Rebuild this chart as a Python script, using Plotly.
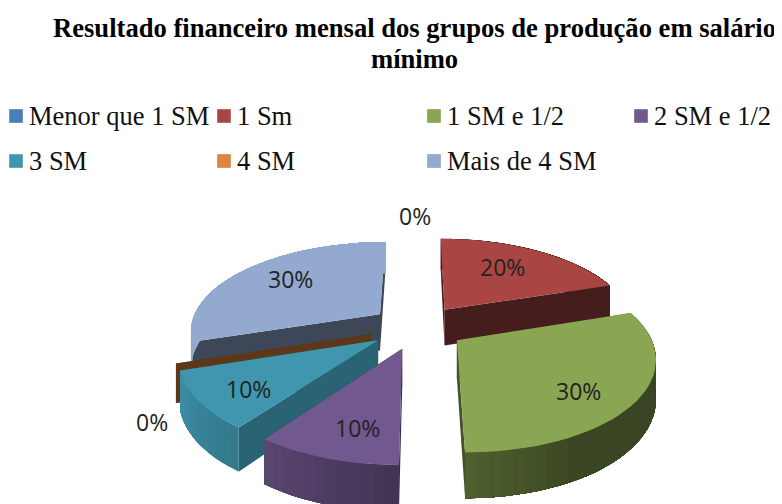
import numpy as np
import plotly.graph_objects as go

# ---- data ----
categories = ["Menor que 1 SM", "1 Sm", "1 SM e 1/2", "2 SM e 1/2", "3 SM", "4 SM", "Mais de 4 SM"]
values = [0, 20, 30, 10, 10, 0, 30]
title_lines = ["Resultado financeiro mensal dos grupos de produção em salário", "mínimo"]

# ---- styles ----
colors = ["#4A7EBB", "#A94644", "#8BA653", "#71588F", "#4096AE", "#E0853B", "#93A9CF"]
wall_shade = [0.42, 0.41, 0.50, 0.50, 0.66, 0.41, 0.42]
draw_order = [6, 1, 5, 4, 3, 2]          # back to front; the first 0 % slice is hidden in the source
label_px = [(415, 216), (502, 267), (578, 391), (357, 428), (248, 389), (152, 422), (290, 279)]
legend_col = [9, 217, 427, 634]
legend_row = [116, 161]
legend_slots = [(0, 0), (1, 0), (2, 0), (3, 0), (0, 1), (1, 1), (2, 1)]
CX, CY, R, B, PERSP, DEPTH, EXPLODE = 417.5, 327, 190, 88.3, 0.168, 37, 0.25
PAGE_MARGIN = 8   # the page body offsets the figure by this many pixels


def project(X, V):
    s = 1 / (1 - PERSP * V)
    return CX + s * X * R, CY + s * V * B, s


def rgb(hex_color, f=1.0):
    c = [int(hex_color[i:i + 2], 16) for i in (1, 3, 5)]
    return "rgb(%d,%d,%d)" % tuple(min(255, round(v * f)) for v in c)


def rim_shade(theta):
    return float(np.interp(theta, [72, 90, 150, 180, 216, 252, 270], [.41, .42, .42, .58, .80, .95, 1.0]))


fig = go.Figure()


def poly(xs, ys, color):
    fig.add_trace(go.Scatter(x=list(xs), y=list(ys), mode="lines", fill="toself", fillcolor=color,
                             line=dict(color=color, width=0), hoverinfo="skip", showlegend=False))


total = sum(values)
ends = np.cumsum(values) / total * 360
starts = ends - np.array(values) / total * 360

for i in draw_order:
    t0, t1 = starts[i], ends[i]
    mid = np.radians((t0 + t1) / 2)
    ax, av = EXPLODE * np.sin(mid), -EXPLODE * np.cos(mid)
    thetas = np.linspace(t0, t1, max(2, int((t1 - t0) / 3) + 1))
    rad = np.radians(thetas)
    px, py, ps = project(ax + np.sin(rad), av - np.cos(rad))
    apx, apy, aps = project(ax, av)

    # radial walls
    for k in (0, -1):
        poly([apx, px[k], px[k], apx], [apy, py[k], py[k] + DEPTH * ps[k], apy + DEPTH * aps],
             rgb(colors[i], wall_shade[i]))
    # outer rim: each band reaches to the rim's end, the next band paints over it, so no seams show
    if t1 > t0:
        for k in range(len(thetas) - 1):
            xs = list(px[k:]) + list(px[k:][::-1])
            ys = list(py[k:]) + list((py + DEPTH * ps)[k:][::-1])
            poly(xs, ys, rgb(colors[i], rim_shade((thetas[k] + thetas[k + 1]) / 2)))
        # top face
        poly([apx, *px, apx], [apy, *py, apy], rgb(colors[i]))

# legend
for name, color, (c, r) in zip(categories, colors, legend_slots):
    fig.add_trace(go.Scatter(x=[legend_col[c] + 7], y=[legend_row[r]], mode="markers",
                             marker=dict(symbol="square", size=13, color=color,
                                         line=dict(color=rgb(color, 0.85), width=0.5)),
                             hoverinfo="skip", showlegend=False))
    fig.add_annotation(x=legend_col[c] + 18, y=legend_row[r], text=name, showarrow=False,
                       xanchor="left", yanchor="middle",
                       font=dict(family="Liberation Serif", size=26.5, color="#111"))

# percentage labels
for v, (lx, ly) in zip(values, label_px):
    fig.add_annotation(x=lx, y=ly, text=f"{v}%", showarrow=False,
                       font=dict(family="Open Sans", size=23, color="#222"))

# title
for line, ty, tx in zip(title_lines, (28, 59), (414, 414)):
    fig.add_annotation(x=tx, y=ty, text=f"<b>{line}</b>", showarrow=False,
                       font=dict(family="Liberation Serif", size=26.6, color="#000"))

fig.update_layout(width=782 - PAGE_MARGIN, height=504 - PAGE_MARGIN, margin=dict(l=0, r=0, t=0, b=0),
                  paper_bgcolor="white", plot_bgcolor="white", showlegend=False,
                  xaxis=dict(range=[PAGE_MARGIN, 782], visible=False, fixedrange=True),
                  yaxis=dict(range=[504, PAGE_MARGIN], visible=False, fixedrange=True))
fig.write_html("out.html", config={"displayModeBar": False})
